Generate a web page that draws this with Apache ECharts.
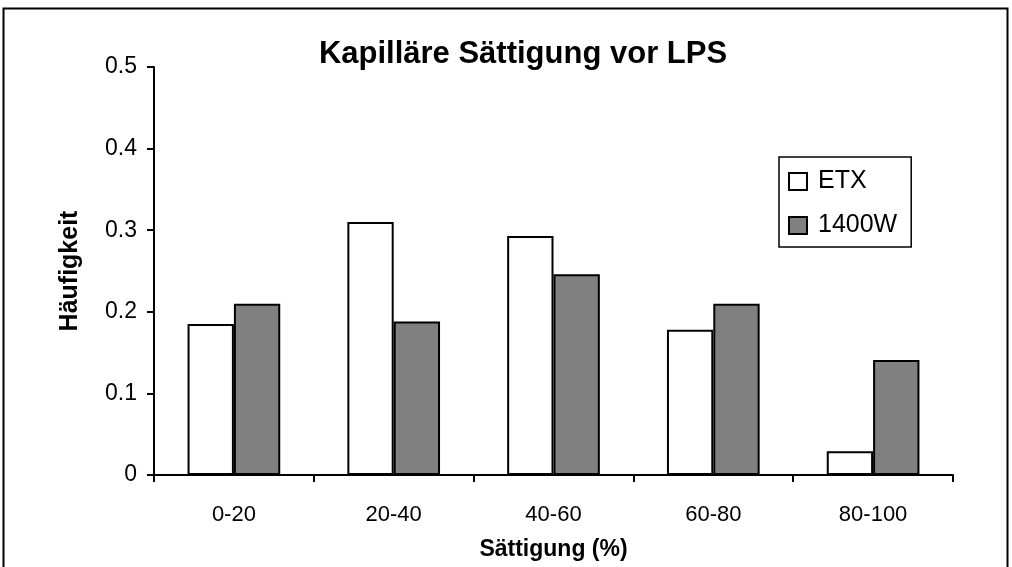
<!DOCTYPE html>
<html><head><meta charset="utf-8">
<script src="https://cdn.jsdelivr.net/npm/echarts@6/dist/echarts.min.js"></script>
<style>html,body{margin:0;padding:0;background:#fff}#c{width:1012px;height:567px}</style>
</head><body><div id="c"></div>
<script>
var categories = ['0-20','20-40','40-60','60-80','80-100'];
var etx = [0.185, 0.310, 0.293, 0.178, 0.029];
var w1400 = [0.210, 0.188, 0.246, 0.210, 0.141];
var yTicks = [0, 0.1, 0.2, 0.3, 0.4, 0.5];

var chart = echarts.init(document.getElementById('c'), null, {renderer:'canvas'});
var font = 'Liberation Sans, Arial, sans-serif';
chart.setOption({
  animation:false,
  backgroundColor:'#fff',
  title:{text:'Kapilläre Sättigung vor LPS', left:518, textAlign:'center', top:34,
    textStyle:{fontFamily:font, fontSize:31, fontWeight:'bold', color:'#000'}},
  graphic:[{type:'rect', shape:{x:3.5,y:8.5,width:1004,height:570}, style:{fill:'none', stroke:'#000', lineWidth:2}}],
  legend:{orient:'vertical', left:779, top:157, padding:[12,14,9,9], itemGap:19,
    borderColor:'#000', borderWidth:1.5, itemWidth:18, itemHeight:17, icon:'rect',
    textStyle:{fontFamily:font, fontSize:25, color:'#000', padding:[0,0,0,6]},
    data:['ETX','1400W']},
  grid:{left:154, right:1012-953, top:67, bottom:567-475, outerBoundsMode:'none', containLabel:false},
  xAxis:{type:'category', data:categories, boundaryGap:true,
    axisLine:{lineStyle:{color:'#000', width:2}},
    axisTick:{show:true, length:7, lineStyle:{color:'#000', width:2}},
    axisLabel:{fontFamily:font, fontSize:22, color:'#000', margin:29},
    name:'Sättigung (%)', nameLocation:'middle', nameGap:63,
    nameTextStyle:{fontFamily:font, fontSize:23, fontWeight:'bold', color:'#000'}},
  yAxis:{type:'value', min:0, max:0.5, interval:0.1,
    axisLine:{show:true, lineStyle:{color:'#000', width:2}},
    axisTick:{show:true, length:7, lineStyle:{color:'#000', width:2}},
    splitLine:{show:false},
    axisLabel:{fontFamily:font, fontSize:23, color:'#000', margin:17,
      formatter:function(v){ var i = yTicks.indexOf(Math.round(v*10)/10); return i>=0 ? String(yTicks[i]) : ''; }},
    name:'Häufigkeit', nameLocation:'middle', nameGap:71, nameRotate:90,
    nameTextStyle:{fontFamily:font, fontSize:25, fontWeight:'bold', color:'#000'}},
  series:[
    {name:'ETX', type:'bar', data:etx, barGap:'0%', barCategoryGap:'42%',
      itemStyle:{color:'#fff', borderColor:'#000', borderWidth:2}},
    {name:'1400W', type:'bar', data:w1400,
      itemStyle:{color:'#808080', borderColor:'#000', borderWidth:2}}
  ]
});
</script></body></html>
